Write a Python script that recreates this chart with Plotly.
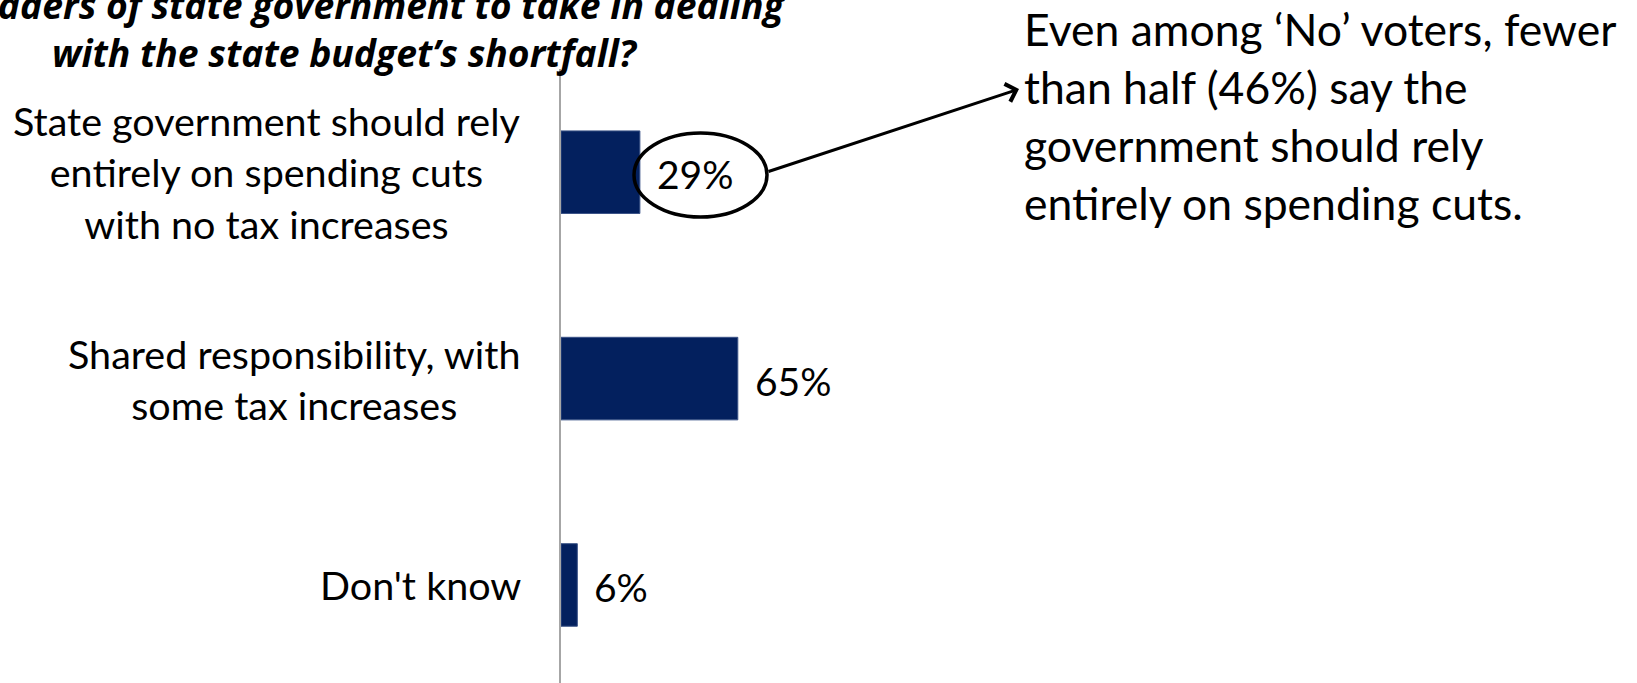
import plotly.graph_objects as go

W, H = 1637, 683

categories = [
    "State government should rely<br>entirely on spending cuts<br>with no tax increases",
    "Shared responsibility, with<br>some tax increases",
    "Don't know",
]
values = [29, 65, 6]
value_labels = ["29%", "65%", "6%"]

title_line1 = "leaders of state government to take in dealing"
title_line2 = "with the state budget\u2019s shortfall?"
callout = ("Even among \u2018No\u2019 voters, fewer<br>than half (46%) say the<br>"
           "government should rely<br>entirely on spending cuts.")

FONT = "Lato"
TITLE_FONT = "Open Sans"
NAVY = "#03205E"

def px(x):
    return x / W

def py(y):
    return 1 - y / H

x_left = 561
ppu = 2.72
x_max = (W - x_left) / ppu

fig = go.Figure()
fig.add_trace(go.Bar(
    x=values, y=list(range(len(categories))), orientation="h",
    marker=dict(color=NAVY, line=dict(color="#3b5387", width=1)),
    width=0.4, hoverinfo="skip",
))

annotations = []
for i, (cat, v, lab) in enumerate(zip(categories, values, value_labels)):
    annotations.append(dict(
        x=px(523), xref="paper", y=i, yref="y", text=cat, showarrow=False,
        xanchor="right", yanchor="middle", align="center",
        font=dict(family=FONT, size=39.5, color="black"),
    ))
    annotations.append(dict(
        x=v, xref="x", y=i, yref="y", text=lab, showarrow=False,
        xanchor="left", yanchor="middle", xshift=15, yshift=-2,
        font=dict(family=FONT, size=39, color="black"),
    ))

annotations += [
    dict(x=px(787), y=py(4), xref="paper", yref="paper", text="<b><i>" + title_line1 + "</i></b>",
         showarrow=False, xanchor="right", yanchor="middle",
         font=dict(family=TITLE_FONT, size=37.3, color="black")),
    dict(x=px(345), y=py(52), xref="paper", yref="paper", text="<b><i>" + title_line2 + "</i></b>",
         showarrow=False, xanchor="center", yanchor="middle",
         font=dict(family=TITLE_FONT, size=37.3, color="black")),
    dict(x=px(1022), y=py(0), xref="paper", yref="paper", text=callout,
         showarrow=False, xanchor="left", yanchor="top", align="left",
         font=dict(family=FONT, size=44.5, color="black")),
    dict(x=px(1019), y=py(89), xref="paper", yref="paper", text="",
         showarrow=True, ax=767 - 1019, ay=172 - 89, arrowhead=4, arrowsize=1.2,
         arrowwidth=3, arrowcolor="black", standoff=0, startstandoff=0),
]

shapes = [dict(type="circle", xref="paper", yref="paper",
               x0=px(634), x1=px(767), y0=py(217), y1=py(133),
               line=dict(color="black", width=3.5), fillcolor="rgba(0,0,0,0)")]

fig.update_layout(
    width=W, height=H, margin=dict(l=0, r=0, t=0, b=0),
    paper_bgcolor="white", plot_bgcolor="white", showlegend=False,
    xaxis=dict(domain=[px(x_left), 1], range=[0, x_max], visible=False, fixedrange=True),
    yaxis=dict(domain=[0, (H - 69) / H], range=[2.475, -0.5], showticklabels=False,
               showgrid=False, zeroline=False, showline=True, linecolor="#a6a6a6",
               linewidth=2, ticks=""),
    annotations=annotations, shapes=shapes,
)

fig.write_html("out.html")
